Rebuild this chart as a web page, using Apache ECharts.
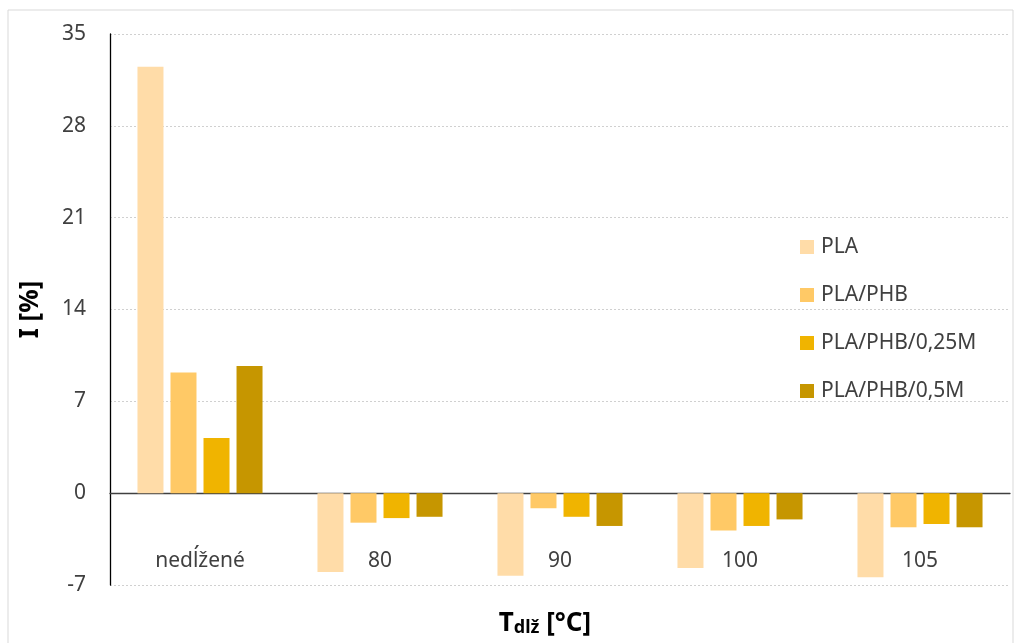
<!DOCTYPE html>
<html><head><meta charset="utf-8">
<script src="https://cdn.jsdelivr.net/npm/echarts@6/dist/echarts.min.js"></script>
<style>html,body{margin:0;padding:0;background:#fff}#c{width:1019px;height:643px}</style>
</head><body><div id="c"></div>
<script>
const categories = ['nedĺžené', '80', '90', '100', '105'];
const seriesNames = ['PLA', 'PLA/PHB', 'PLA/PHB/0,25M', 'PLA/PHB/0,5M'];
const PLA = [32.5, -6.0, -6.3, -5.7, -6.4];
const PLA_PHB = [9.2, -2.25, -1.15, -2.85, -2.6];
const PLA_PHB_025M = [4.2, -1.9, -1.8, -2.5, -2.35];
const PLA_PHB_05M = [9.7, -1.8, -2.5, -2.0, -2.6];
const yTicks = [-7, 0, 7, 14, 21, 28, 35];
const colors = ['#FFDCA8', '#FFC966', '#F0B400', '#C69600'];
const values = [PLA, PLA_PHB, PLA_PHB_025M, PLA_PHB_05M];
const font = 'Noto Sans';
const chart = echarts.init(document.getElementById('c'));
chart.setOption({
  animation: false,
  textStyle: {fontFamily: font},
  graphic: [{type: 'rect', shape: {x: 8, y: 10, width: 1005, height: 640}, style: {fill: 'none', stroke: '#d9d9d9', lineWidth: 1}, silent: true}],
  grid: {left: 110, right: 9, top: 34, bottom: 58, outerBoundsMode: 'none', containLabel: false},
  legend: {
    orient: 'vertical', left: 795, top: 231, itemGap: 26, itemWidth: 14, itemHeight: 14,
    icon: 'rect', data: seriesNames,
    textStyle: {fontSize: 21, lineHeight: 22, color: '#404040', fontFamily: font, padding: [0, 0, 0, 2]}
  },
  xAxis: [{
    type: 'category', data: categories,
    axisLine: {onZero: true, lineStyle: {color: '#404040', width: 1.3}},
    axisTick: {show: false}, axisLabel: {show: false}
  }, {
    type: 'category', data: categories, position: 'bottom',
    axisLine: {show: false}, axisTick: {show: false},
    axisLabel: {inside: true, margin: 13, fontSize: 21, color: '#404040', verticalAlign: 'bottom'},
    name: '{a|T}{s|dlž}{a| [°C]}', nameLocation: 'middle', nameGap: 24,
    nameTextStyle: {padding: [0, 30, 0, 0], rich: {
      a: {fontSize: 26, fontWeight: 'bold', color: '#000', fontFamily: font, verticalAlign: 'bottom'},
      s: {fontSize: 18, fontWeight: 'bold', color: '#000', fontFamily: font, padding: [10, 0, 0, 0], verticalAlign: 'bottom'}
    }}
  }],
  yAxis: {
    type: 'value', min: -7, max: 35, interval: 7,
    axisLine: {show: true, lineStyle: {color: '#000', width: 1.3}},
    axisTick: {show: false},
    axisLabel: {fontSize: 21, color: '#404040', margin: 24},
    splitLine: {lineStyle: {color: '#d0d0d0', type: [2, 2]}},
    name: 'I [%]', nameLocation: 'middle', nameGap: 66, nameRotate: 90,
    nameTextStyle: {fontSize: 26, fontWeight: 'bold', color: '#000'}
  },
  series: values.map((v, i) => ({
    name: seriesNames[i], type: 'bar', data: v, xAxisIndex: 0,
    barWidth: 26, barGap: '27%', barCategoryGap: '31%',
    itemStyle: {color: colors[i]}
  }))
});
</script></body></html>
